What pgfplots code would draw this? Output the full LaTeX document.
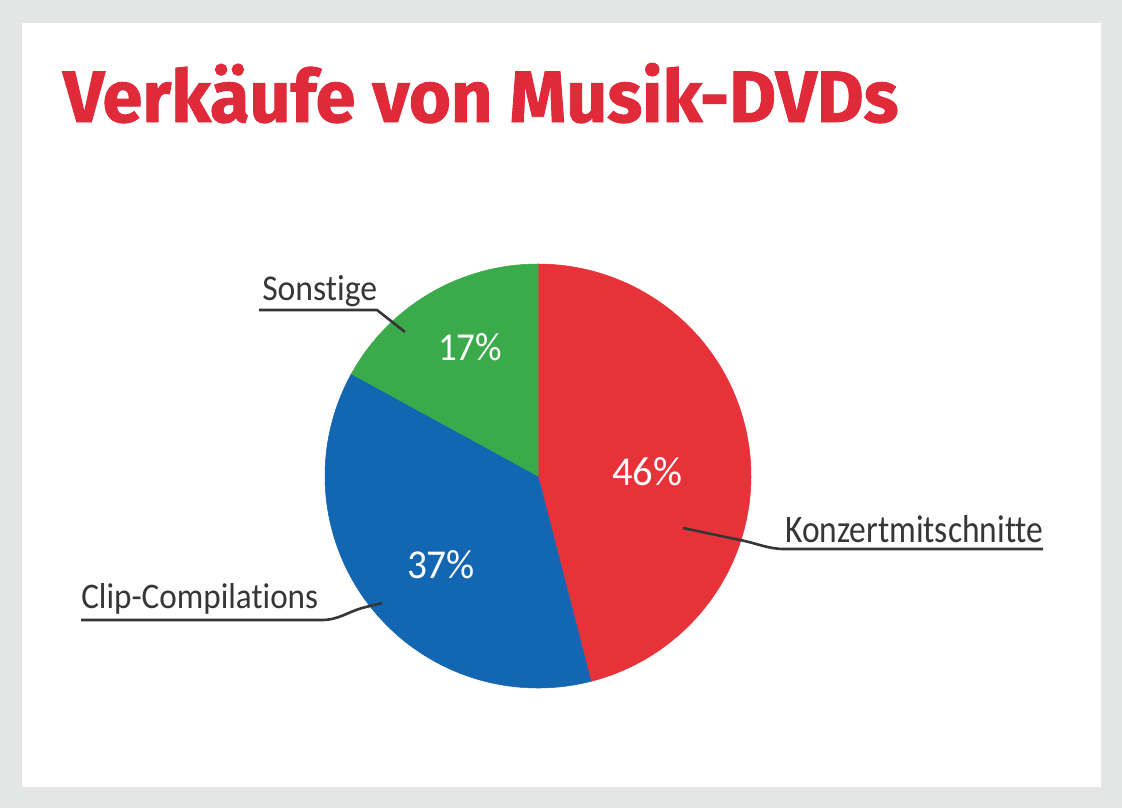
\documentclass[border=0pt]{standalone}
\usepackage{pgfplots}
\pgfplotsset{compat=1.18}
\usepackage{pgfplotstable}
\usepackage{graphicx}
\usepackage{fontspec}
\setmainfont{Carlito}[Ligatures=NoCommon]
\newfontfamily\titlefont{Fira Sans}[FakeBold=1.2]
\newdimen\px \px=0.75pt

\definecolor{bggray}{HTML}{E4E6E5}
\definecolor{titlered}{HTML}{E02A3A}
\definecolor{pred}{HTML}{E8323A}
\definecolor{pblue}{HTML}{1266B2}
\definecolor{pgreen}{HTML}{3AAA4A}
\definecolor{labgray}{HTML}{363636}

\pgfplotstableread{
idx value
0 46
1 37
2 17
}\piedata
\pgfplotstablegetelem{0}{value}\of\piedata \edef\vA{\pgfplotsretval}
\pgfplotstablegetelem{1}{value}\of\piedata \edef\vB{\pgfplotsretval}
\pgfplotstablegetelem{2}{value}\of\piedata \edef\vC{\pgfplotsretval}
\pgfmathsetmacro\aA{3.6*\vA}
\pgfmathsetmacro\aB{\aA+3.6*\vB}
\pgfmathsetmacro\aC{\aB+3.6*\vC}

\begin{document}
\begin{tikzpicture}
\begin{axis}[
  scale only axis, width=1122\px, height=808\px,
  xmin=0, xmax=1122, ymin=0, ymax=808, y dir=reverse,
  hide axis, clip=false,
]
\fill[bggray] (axis cs:0,0) rectangle (axis cs:1122,808);
\fill[white] (axis cs:22,23) rectangle (axis cs:1101,787);

\addplot[fill=pred, draw=pred, line width=0.4pt, domain=0:\aA, samples=120]
  ({538+213*sin(x)}, {476-212*cos(x)}) -- (axis cs:538,476) -- cycle;
\addplot[fill=pblue, draw=pblue, line width=0.4pt, domain=\aA:\aB, samples=120]
  ({538+213*sin(x)}, {476-212*cos(x)}) -- (axis cs:538,476) -- cycle;
\addplot[fill=pgreen, draw=pgreen, line width=0.4pt, domain=\aB:\aC, samples=80]
  ({538+213*sin(x)}, {476-212*cos(x)}) -- (axis cs:538,476) -- cycle;

\node[anchor=base west, inner sep=0, text=titlered] at (axis cs:63,122)
  {\resizebox{835\px}{59\px}{\titlefont\bfseries Verkäufe von Musik-DVDs}};

% percentage labels
\node[anchor=base, inner sep=0, text=white] at (axis cs:470,360)
  {\resizebox{64\px}{27\px}{17\%}};
\node[anchor=base, inner sep=0, text=white] at (axis cs:647,485)
  {\resizebox{70\px}{28\px}{46\%}};
\node[anchor=base, inner sep=0, text=white] at (axis cs:441,578)
  {\resizebox{68\px}{28\px}{37\%}};

% category labels and leaders
\node[anchor=base west, inner sep=0, text=labgray] at (axis cs:262,300)
  {\resizebox{115\px}{25\px}{Sonstige}};
\draw[labgray, line width=2.6\px, line join=round]
  (axis cs:259,310) -- (axis cs:377,310) -- (axis cs:405,332);

\node[anchor=base west, inner sep=0, text=labgray] at (axis cs:785,542)
  {\resizebox{258\px}{27\px}{Konzertmitschnitte}};
\draw[labgray, line width=2.6\px, line join=round]
  (axis cs:1043,549) -- (axis cs:784,549)
  .. controls (axis cs:768,549) and (axis cs:756,543) .. (axis cs:740,540)
  -- (axis cs:683,528);

\node[anchor=base west, inner sep=0, text=labgray] at (axis cs:81,608)
  {\resizebox{237\px}{25\px}{Clip-Compilations}};
\draw[labgray, line width=2.6\px, line join=round]
  (axis cs:81,620) -- (axis cs:322,620)
  .. controls (axis cs:338,620) and (axis cs:348,612) .. (axis cs:362,608)
  -- (axis cs:382,603);
\end{axis}
\end{tikzpicture}
\end{document}
